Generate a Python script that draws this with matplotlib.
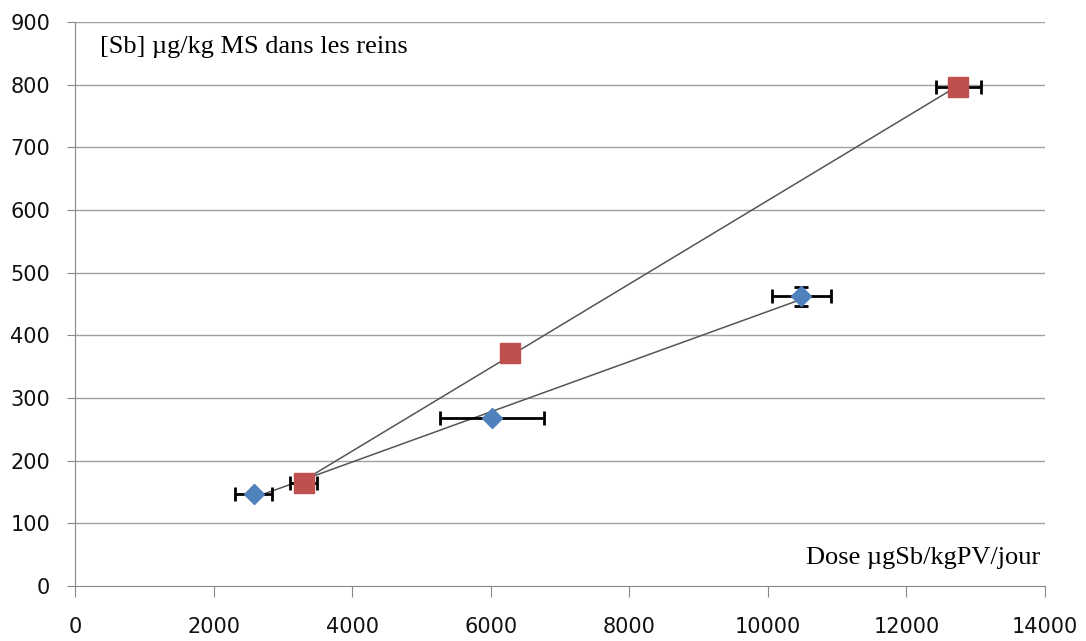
import numpy as np
import matplotlib
matplotlib.use("Agg")
import matplotlib.pyplot as plt

# Data
blue_x = [2580, 6020, 10480]
blue_y = [147, 268, 462]
blue_xerr = [270, 750, 425]
blue_yerr = [0, 0, 15]

red_x = [3300, 6275, 12750]
red_y = [165, 372, 797]
red_xerr = [190, 0, 330]
red_yerr = [14, 0, 0]

x_ticks = [0, 2000, 4000, 6000, 8000, 10000, 12000, 14000]
y_ticks = [0, 100, 200, 300, 400, 500, 600, 700, 800, 900]

fig = plt.figure(figsize=(10.86, 6.41), dpi=100)
ax = fig.add_axes([75/1086, 1 - 586/641, 970/1086, 564/641])

ax.set_xlim(0, 14000)
ax.set_ylim(0, 900)

for yv in y_ticks[1:]:
    ax.axhline(yv, color="#a0a0a0", lw=1.0, zorder=0)

# trendlines
for xs, ys in [(blue_x, blue_y), (red_x, red_y)]:
    p = np.polyfit(xs, ys, 1)
    xx = np.array([min(xs), max(xs)])
    ax.plot(xx, np.polyval(p, xx), color="#555555", lw=1.1, zorder=2)

ax.errorbar(blue_x, blue_y, xerr=blue_xerr, yerr=blue_yerr, fmt="D", ms=10,
            mfc="#4f81bd", mec="#4f81bd", ecolor="black", elinewidth=2,
            capsize=5, capthick=2, zorder=3)
ax.errorbar(red_x, red_y, xerr=red_xerr, yerr=red_yerr, fmt="s", ms=14,
            mfc="#c0504d", mec="#c0504d", ecolor="black", elinewidth=2,
            capsize=5, capthick=2, zorder=3)

ax.set_xticks(x_ticks)
ax.set_yticks(y_ticks)
ax.set_xticklabels([str(v) for v in x_ticks], fontsize=15)
ax.set_yticklabels([str(v) for v in y_ticks], fontsize=15)
for s in ["top", "right"]:
    ax.spines[s].set_visible(False)
for s in ["left", "bottom"]:
    ax.spines[s].set_color("#888888")
ax.tick_params(axis="y", direction="out", length=6, color="#888888", labelcolor="#111111", pad=12)
ax.tick_params(axis="x", direction="out", length=8, color="#888888", labelcolor="#111111", pad=14)

ax.text(25/970, 1 - 25/564, "[Sb] µg/kg MS dans les reins", transform=ax.transAxes,
        fontsize=19, family="Liberation Serif", va="center", ha="left")
ax.text(965/970, 28/564, "Dose µgSb/kgPV/jour", transform=ax.transAxes,
        fontsize=19, family="Liberation Serif", va="center", ha="right")

fig.savefig("out.png", dpi=100)
